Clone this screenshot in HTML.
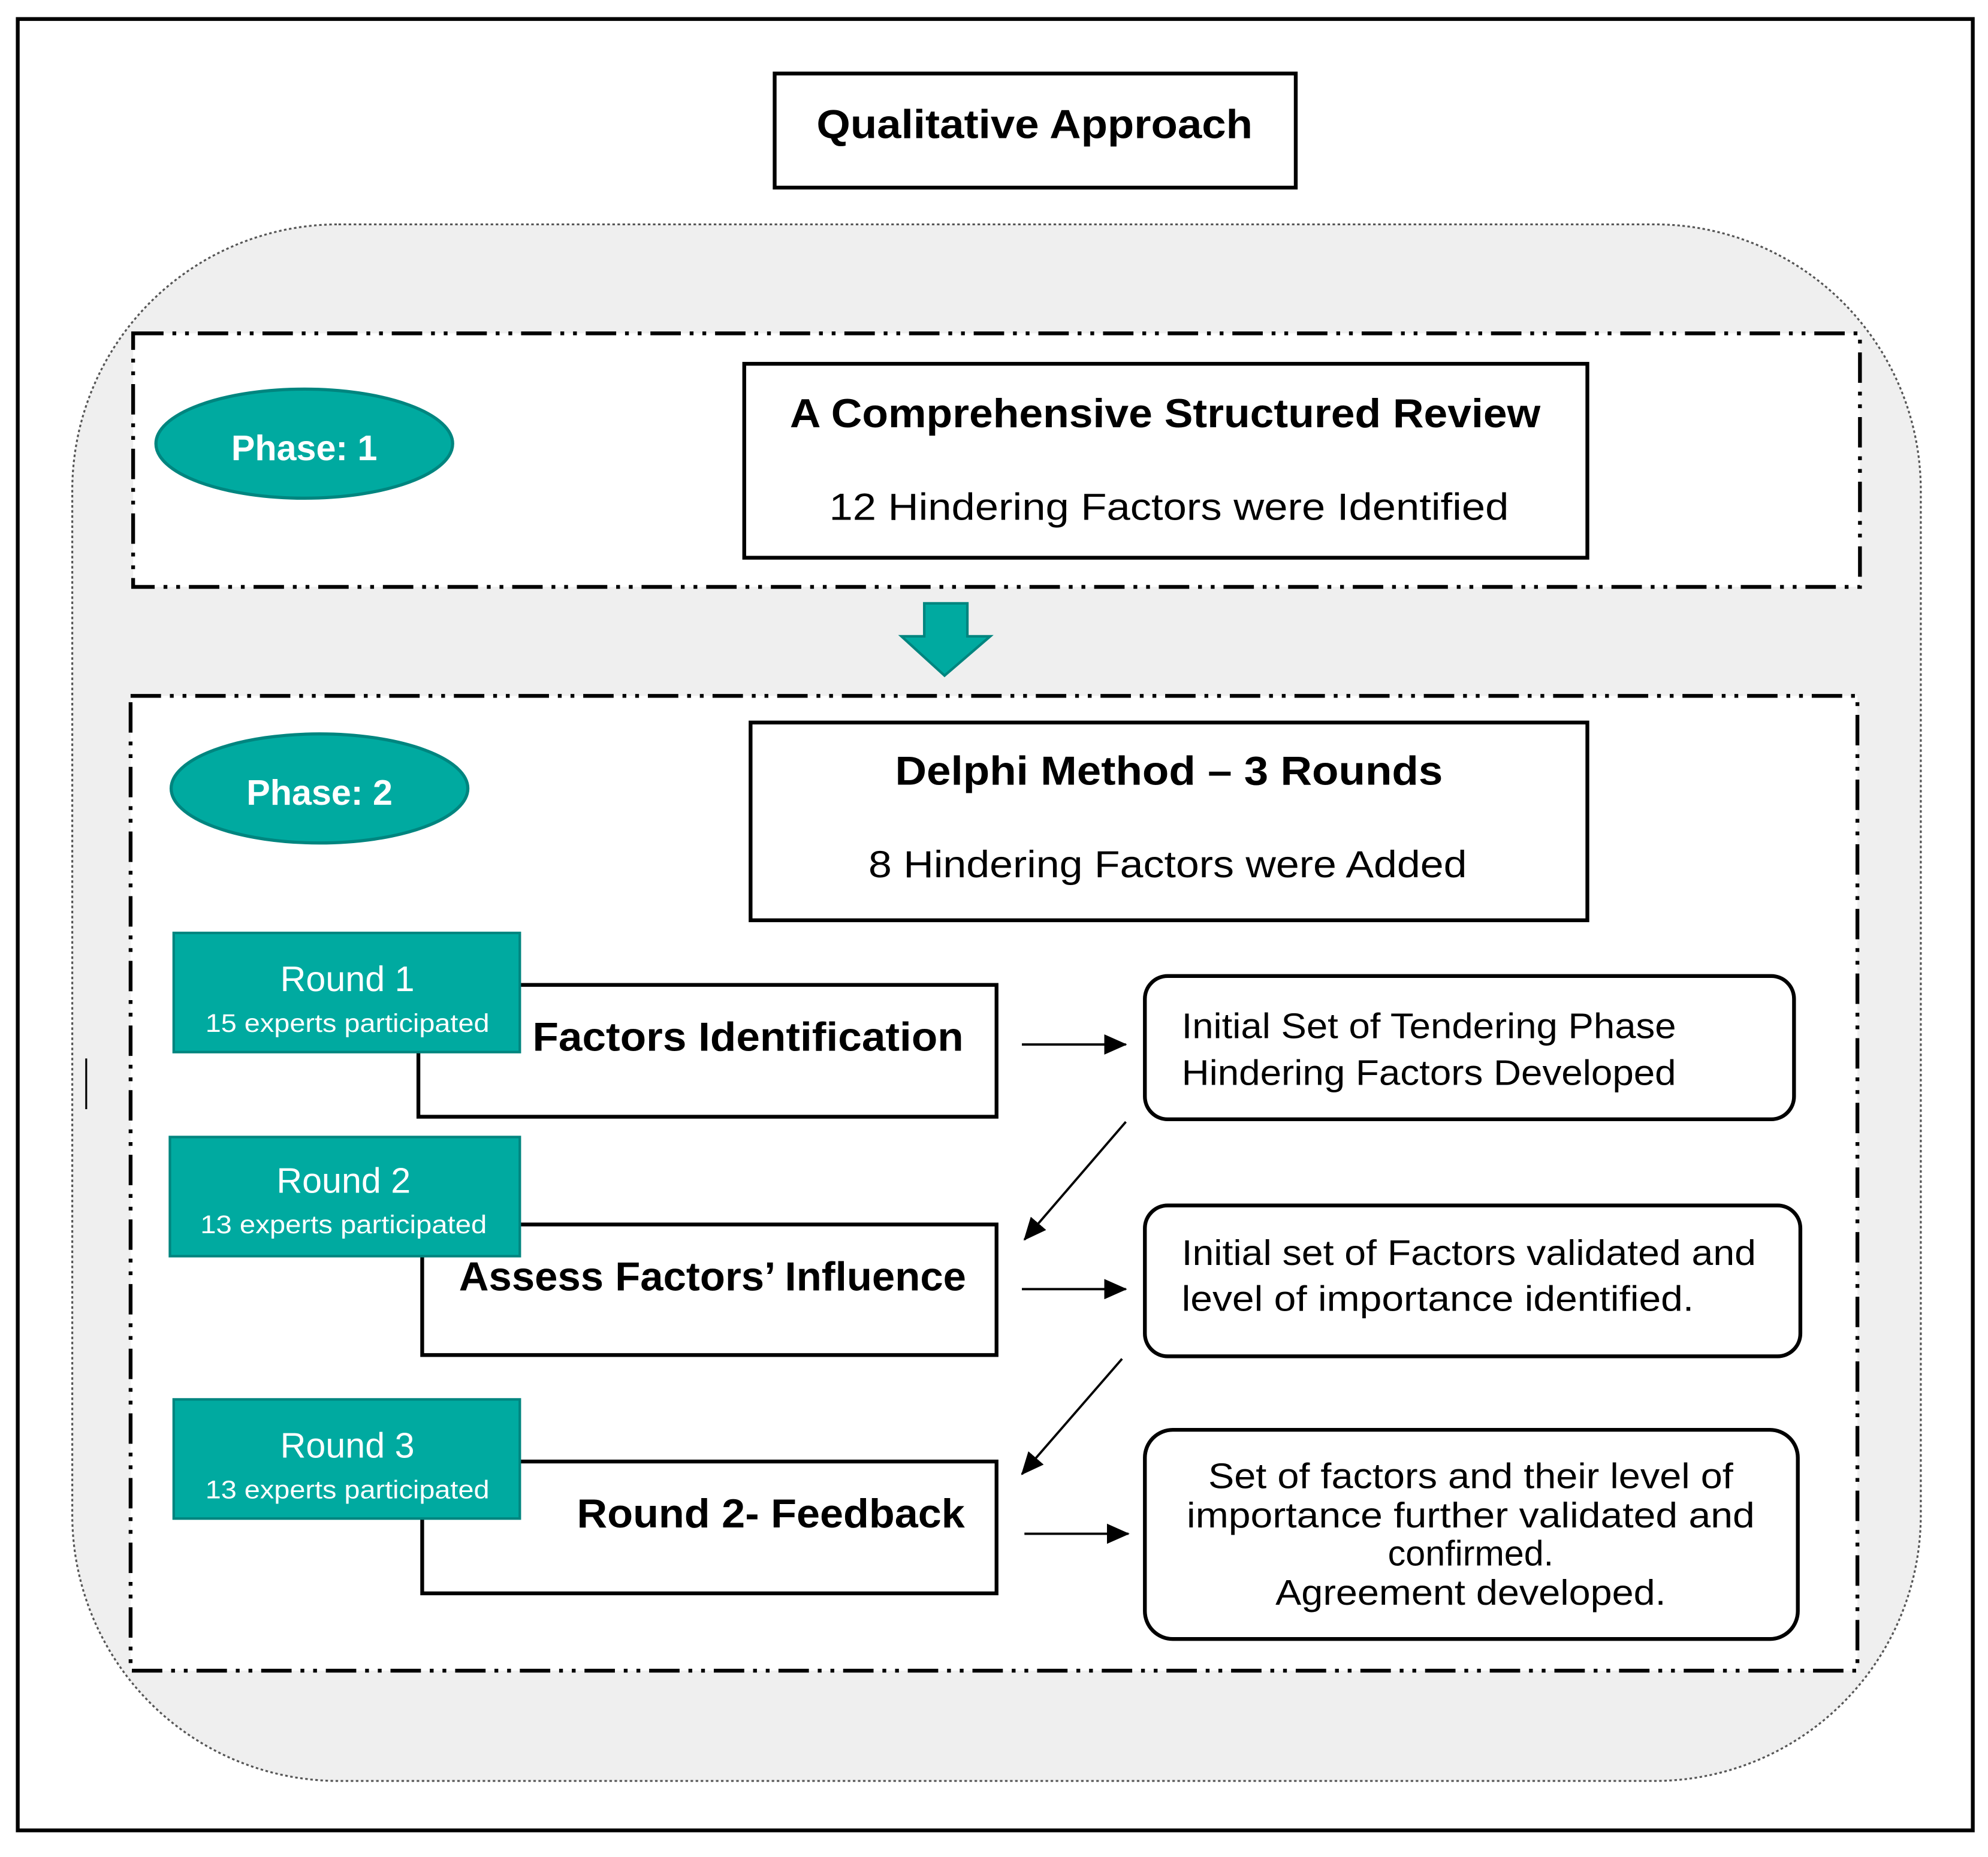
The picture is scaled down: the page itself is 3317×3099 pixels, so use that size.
<!DOCTYPE html>
<html><head><meta charset="utf-8"><style>html,body{margin:0;padding:0;background:#fff}svg{display:block}</style></head><body>
<svg width="3317" height="3099" viewBox="0 0 1568 1465" preserveAspectRatio="none" xmlns="http://www.w3.org/2000/svg" font-family="'Liberation Sans', sans-serif">
<rect x="14" y="15" width="1542" height="1429" fill="#fff" stroke="#000" stroke-width="3"/>
<rect x="611" y="58" width="411" height="90" fill="#fff" stroke="#000" stroke-width="3"/>
<text x="816" y="109" font-size="32" font-weight="bold" text-anchor="middle" textLength="344" lengthAdjust="spacingAndGlyphs">Qualitative Approach</text>
<rect x="57" y="177" width="1458" height="1228" rx="210" fill="#efefef" stroke="#555" stroke-width="1.5" stroke-dasharray="2 2"/>
<line x1="68" y1="835" x2="68" y2="875" stroke="#000" stroke-width="1.5"/>
<rect x="105" y="263" width="1362" height="200" fill="#fff" stroke="#000" stroke-width="3" stroke-dasharray="24 7 3 7 3 7"/>
<ellipse cx="240" cy="350" rx="117" ry="43" fill="#00aaa0" stroke="#00857f" stroke-width="2.5"/>
<text x="240" y="363" font-size="28" font-weight="bold" fill="#fff" text-anchor="middle">Phase: 1</text>
<rect x="587" y="287" width="665" height="153" fill="#fff" stroke="#000" stroke-width="3"/>
<text x="919" y="337" font-size="32" font-weight="bold" text-anchor="middle" textLength="592" lengthAdjust="spacingAndGlyphs">A Comprehensive Structured Review</text>
<text x="922" y="410" font-size="30" text-anchor="middle" textLength="536" lengthAdjust="spacingAndGlyphs">12 Hindering Factors were Identified</text>
<polygon points="729,476 763,476 763,502 781,502 745,533 711,502 729,502" fill="#00aaa0" stroke="#00857f" stroke-width="2"/>
<rect x="103" y="549" width="1362" height="769" fill="#fff" stroke="#000" stroke-width="3" stroke-dasharray="24 7 3 7 3 7"/>
<ellipse cx="252" cy="622" rx="117" ry="43" fill="#00aaa0" stroke="#00857f" stroke-width="2.5"/>
<text x="252" y="635" font-size="28" font-weight="bold" fill="#fff" text-anchor="middle">Phase: 2</text>
<rect x="592" y="570" width="660" height="156" fill="#fff" stroke="#000" stroke-width="3"/>
<text x="922" y="619" font-size="32" font-weight="bold" text-anchor="middle" textLength="432" lengthAdjust="spacingAndGlyphs">Delphi Method – 3 Rounds</text>
<text x="921" y="692" font-size="30" text-anchor="middle" textLength="472" lengthAdjust="spacingAndGlyphs">8 Hindering Factors were Added</text>
<g stroke="#000" stroke-width="3" fill="#fff">
<rect x="330" y="777" width="456" height="104"/>
<rect x="333" y="966" width="453" height="103"/>
<rect x="333" y="1153" width="453" height="104"/>
<rect x="903" y="770" width="512" height="113" rx="18"/>
<rect x="903" y="951" width="517" height="119" rx="18"/>
<rect x="903" y="1128" width="515" height="165" rx="22"/>
</g>
<g fill="#00aaa0" stroke="#00857f" stroke-width="2">
<rect x="137" y="736" width="273" height="94"/>
<rect x="134" y="897" width="276" height="94"/>
<rect x="137" y="1104" width="273" height="94"/>
</g>
<g fill="#fff" text-anchor="middle">
<text x="274" y="782" font-size="28">Round 1</text>
<text x="274" y="814" font-size="20" textLength="224" lengthAdjust="spacingAndGlyphs">15 experts participated</text>
<text x="271" y="941" font-size="28">Round 2</text>
<text x="271" y="973" font-size="20" textLength="226" lengthAdjust="spacingAndGlyphs">13 experts participated</text>
<text x="274" y="1150" font-size="28">Round 3</text>
<text x="274" y="1182" font-size="20" textLength="224" lengthAdjust="spacingAndGlyphs">13 experts participated</text>
</g>
<g font-weight="bold" font-size="32">
<text x="420" y="829" textLength="340" lengthAdjust="spacingAndGlyphs">Factors Identification</text>
<text x="362" y="1018" textLength="400" lengthAdjust="spacingAndGlyphs">Assess Factors’ Influence</text>
<text x="455" y="1205" textLength="306" lengthAdjust="spacingAndGlyphs">Round 2- Feedback</text>
</g>
<g font-size="28">
<text x="932" y="819" textLength="390" lengthAdjust="spacingAndGlyphs">Initial Set of Tendering Phase</text>
<text x="932" y="856" textLength="390" lengthAdjust="spacingAndGlyphs">Hindering Factors Developed</text>
<text x="932" y="998" textLength="453" lengthAdjust="spacingAndGlyphs">Initial set of Factors validated and</text>
<text x="932" y="1034" textLength="404" lengthAdjust="spacingAndGlyphs">level of importance identified.</text>
</g>
<g font-size="28" text-anchor="middle">
<text x="1160" y="1174" textLength="414" lengthAdjust="spacingAndGlyphs">Set of factors and their level of</text>
<text x="1160" y="1205" textLength="448" lengthAdjust="spacingAndGlyphs">importance further validated and</text>
<text x="1160" y="1235">confirmed.</text>
<text x="1160" y="1266" textLength="308" lengthAdjust="spacingAndGlyphs">Agreement developed.</text>
</g>
<defs><marker id="a" markerWidth="10" markerHeight="10" refX="9" refY="5" orient="auto" markerUnits="userSpaceOnUse" viewBox="0 0 10 10"><path d="M0,0 L10,5 L0,10 z" fill="#000" transform="scale(1)"/></marker>
<marker id="b" markerWidth="18" markerHeight="16" refX="17" refY="8" orient="auto" markerUnits="userSpaceOnUse"><path d="M0,0 L18,8 L0,16 z" fill="#000"/></marker></defs>
<g stroke="#000" stroke-width="1.8" marker-end="url(#b)">
<line x1="806" y1="824" x2="888" y2="824"/>
<line x1="888" y1="885" x2="808" y2="978"/>
<line x1="806" y1="1017" x2="888" y2="1017"/>
<line x1="885" y1="1072" x2="806" y2="1163"/>
<line x1="808" y1="1210" x2="890" y2="1210"/>
</g>
</svg>
</body></html>
